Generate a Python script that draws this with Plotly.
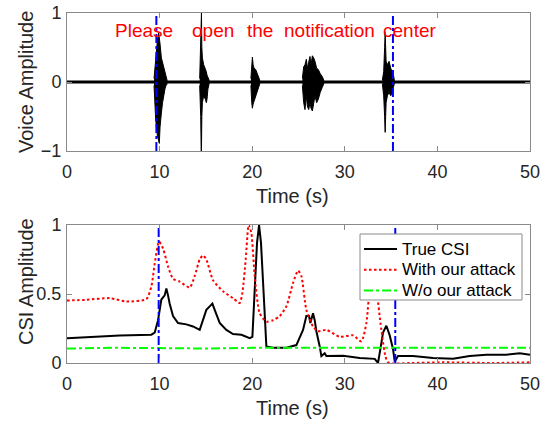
import plotly.graph_objects as go

# ---------------- data: voice waveform (burst envelopes) ----------------
b1_t  = [9.40, 9.50, 9.58, 9.76, 9.90, 9.97, 10.05, 10.19, 10.32, 10.44, 10.58, 10.66, 10.80]
b1_up = [0.05, 0.20, 0.40, 0.60, 0.71, 0.66, 0.55, 0.35, 0.28, 0.20, 0.12, 0.10, 0.03]
b1_lo = [-0.05, -0.20, -0.55, -0.78, -0.85, -0.89, -0.65, -0.45, -0.30, -0.20, -0.10, -0.06, -0.03]

b2_t  = [14.33, 14.44, 14.49, 14.52, 14.56, 14.62, 14.76, 14.94, 15.05, 15.12, 15.22, 15.34]
b2_up = [0.05, 0.50, 1.00, 1.00, 0.50, 0.35, 0.25, 0.20, 0.15, 0.10, 0.06, 0.03]
b2_lo = [-0.05, -0.50, -1.00, -1.00, -0.50, -0.30, -0.20, -0.25, -0.30, -0.25, -0.10, -0.03]

b3_t  = [19.86, 19.95, 20.02, 20.10, 20.20, 20.38, 20.50, 20.63, 20.81]
b3_up = [0.05, 0.25, 0.36, 0.25, 0.20, 0.18, 0.14, 0.10, 0.03]
b3_lo = [-0.05, -0.30, -0.38, -0.32, -0.28, -0.20, -0.15, -0.10, -0.03]

b4_t  = [25.42, 25.56, 25.70, 25.85, 25.96, 26.10, 26.24, 26.35, 26.50, 26.64, 26.78, 26.96, 27.14, 27.35, 27.56, 27.72]
b4_up = [0.05, 0.22, 0.25, 0.33, 0.20, 0.30, 0.37, 0.25, 0.38, 0.35, 0.30, 0.20, 0.18, 0.12, 0.08, 0.03]
b4_lo = [-0.05, -0.30, -0.40, -0.20, -0.35, -0.40, -0.30, -0.38, -0.42, -0.35, -0.20, -0.30, -0.25, -0.15, -0.08, -0.03]

b5_t  = [34.06, 34.20, 34.30, 34.36, 34.40, 34.46, 34.60, 34.78, 34.96, 35.14, 35.25, 35.34]
b5_up = [0.03, 0.15, 0.50, 0.72, 0.55, 0.30, 0.25, 0.30, 0.20, 0.15, 0.10, 0.04]
b5_lo = [-0.03, -0.20, -0.50, -0.73, -0.55, -0.30, -0.20, -0.15, -0.20, -0.15, -0.08, -0.03]

bursts = [(b1_t, b1_up, b1_lo), (b2_t, b2_up, b2_lo), (b3_t, b3_up, b3_lo),
          (b4_t, b4_up, b4_lo), (b5_t, b5_up, b5_lo)]

words   = ["Please", "open", "the", "notification", "center"]
words_t = [8.32, 15.8, 20.84, 28.4, 37.0]
words_y = 0.74

marker_top = [9.65, 35.2]
marker_bot = [9.9, 35.45]

# ---------------- data: CSI curves ----------------
true_t = [0, 2.81, 5.69, 9.11, 9.47, 9.83, 10.19, 10.55, 10.73, 10.91, 11.09, 11.45, 11.99, 12.89,
          13.61, 14.33, 14.69, 15.05, 15.41, 15.70, 15.95, 16.49, 17.21, 17.93, 18.83, 19.73, 20.02,
          20.27, 20.52, 20.74, 20.95, 21.24, 21.53, 22.25, 23.69, 24.77, 25.13, 25.49, 25.85, 26.14,
          26.28, 26.57, 26.75, 26.93, 27.29, 27.47, 27.83, 28.01, 29.81, 31.61, 33.23, 33.59, 33.84,
          34.13, 34.49, 34.85, 35.21, 35.39, 35.75, 37.37, 39.53, 41.69, 43.49, 45.29, 47.45, 48.89, 50]
true_v = [0.18, 0.19, 0.20, 0.205, 0.22, 0.31, 0.46, 0.49, 0.54, 0.49, 0.43, 0.34, 0.29, 0.28,
          0.265, 0.24, 0.31, 0.385, 0.41, 0.43, 0.385, 0.29, 0.24, 0.21, 0.205, 0.18, 0.19,
          0.50, 0.87, 1.00, 0.87, 0.50, 0.12, 0.11, 0.11, 0.13, 0.19, 0.24, 0.34, 0.34,
          0.29, 0.36, 0.31, 0.23, 0.12, 0.05, 0.07, 0.05, 0.053, 0.036, 0.03, 0.0, 0.10,
          0.22, 0.27, 0.20, 0.10, 0.01, 0.05, 0.05, 0.036, 0.03, 0.05, 0.06, 0.06, 0.07, 0.06]

att_t = [0, 2.09, 4.61, 6.41, 8.57, 9.11, 9.47, 9.94, 10.37, 10.91, 11.45, 12.17, 13.25, 13.79,
         14.33, 14.69, 15.05, 15.77, 16.85, 17.93, 18.65, 18.94, 19.30, 19.62, 19.91, 20.27, 20.81,
         21.53, 22.25, 22.97, 23.69, 24.41, 24.95, 25.31, 25.85, 26.57, 27.11, 28.01, 29.45, 30.89,
         31.79, 32.33, 32.69, 33.05, 33.41, 33.95, 34.67, 37.01, 40.61, 46.01, 50]
att_v = [0.453, 0.458, 0.47, 0.446, 0.463, 0.554, 0.72, 0.88, 0.83, 0.70, 0.61, 0.59, 0.547, 0.63,
         0.75, 0.78, 0.75, 0.60, 0.52, 0.47, 0.434, 0.51, 0.75, 1.00, 0.94, 0.63, 0.36,
         0.30, 0.31, 0.34, 0.41, 0.58, 0.67, 0.63, 0.385, 0.265, 0.23, 0.24, 0.19, 0.20,
         0.157, 0.29, 0.55, 0.70, 0.55, 0.24, 0.005, 0.0, 0.005, 0.0, 0.005]

wo_t = [0, 5, 10, 15, 20, 25, 30, 35, 40, 45, 50]
wo_v = [0.105, 0.11, 0.108, 0.105, 0.11, 0.11, 0.108, 0.11, 0.11, 0.108, 0.11]

x_ticks = [0, 10, 20, 30, 40, 50]
legend_names = ["True CSI", "With our attack", "W/o our attack"]

# ---------------- figure ----------------
W, H = 546, 421
ML, MR, MT, MB = 67, 16, 13, 58
PW, PH = W - ML - MR, H - MT - MB

def px_x(p):  # pixel -> paper x
    return (p - ML) / PW

def px_y(p):  # pixel -> paper y
    return (H - MB - p) / PH

fig = go.Figure()
font_family = "Liberation Sans, Arial, sans-serif"
txt_color = "#262626"

# voice baseline
fig.add_trace(go.Scatter(x=[x_ticks[0], x_ticks[-1]], y=[0, 0], mode="lines",
                         line=dict(color="black", width=3), showlegend=False,
                         xaxis="x", yaxis="y"))
for bt, bu, bl in bursts:
    fig.add_trace(go.Scatter(x=bt + bt[::-1], y=bu + bl[::-1], mode="lines",
                             fill="toself", fillcolor="black",
                             line=dict(color="black", width=1), showlegend=False,
                             xaxis="x", yaxis="y"))
for m in marker_top:
    fig.add_trace(go.Scatter(x=[m, m], y=[-1, 1], mode="lines",
                             line=dict(color="#0000FF", width=2, dash="dashdot"),
                             showlegend=False, xaxis="x", yaxis="y"))

for w, t in zip(words, words_t):
    fig.add_annotation(x=t, y=words_y, xref="x", yref="y", text=w, showarrow=False,
                       font=dict(color="#FF0000", size=19, family=font_family))

# CSI
styles = [dict(color="black", width=2),
          dict(color="#FF0000", width=2, dash="2.5px,2.5px"),
          dict(color="#00FF00", width=2, dash="dashdot")]
fig.add_trace(go.Scatter(x=true_t, y=true_v, mode="lines", name=legend_names[0],
                         line=styles[0], xaxis="x2", yaxis="y2", showlegend=False))
fig.add_trace(go.Scatter(x=att_t, y=att_v, mode="lines", name=legend_names[1],
                         line=dict(shape="spline", smoothing=0.6, **styles[1]),
                         xaxis="x2", yaxis="y2", showlegend=False))
fig.add_trace(go.Scatter(x=wo_t, y=wo_v, mode="lines", name=legend_names[2],
                         line=styles[2], xaxis="x2", yaxis="y2", showlegend=False))
for m in marker_bot:
    fig.add_trace(go.Scatter(x=[m, m], y=[0, 1], mode="lines",
                             line=dict(color="#0000FF", width=2, dash="dashdot"),
                             showlegend=False, xaxis="x2", yaxis="y2"))

# manual legend box (MATLAB style)
fig.add_shape(type="rect", xref="paper", yref="paper",
              x0=px_x(360), x1=px_x(522), y0=px_y(300), y1=px_y(234),
              fillcolor="white", line=dict(color="#8a8a8a", width=1), layer="above")
for i, (name, st) in enumerate(zip(legend_names, styles)):
    yy = px_y(249 + 20.8 * i)
    fig.add_shape(type="line", xref="paper", yref="paper",
                  x0=px_x(364), x1=px_x(397), y0=yy, y1=yy,
                  line=dict(color=st["color"], width=2, dash=st.get("dash", "solid")),
                  layer="above")
    fig.add_annotation(x=px_x(400), y=yy, xref="paper", yref="paper", text=name,
                       showarrow=False, xanchor="left", yanchor="middle",
                       font=dict(size=17, color="black", family=font_family))

# axis titles as annotations
title_font = dict(size=20, color=txt_color, family=font_family)
fig.add_annotation(x=px_x(292), y=px_y(196), xref="paper", yref="paper", text="Time (s)",
                   showarrow=False, font=title_font, xanchor="center", yanchor="middle")
fig.add_annotation(x=px_x(292), y=px_y(408), xref="paper", yref="paper", text="Time (s)",
                   showarrow=False, font=title_font, xanchor="center", yanchor="middle")
fig.add_annotation(x=px_x(26), y=px_y(82), xref="paper", yref="paper", text="Voice Amplitude",
                   showarrow=False, font=title_font, textangle=-90,
                   xanchor="center", yanchor="middle")
fig.add_annotation(x=px_x(26), y=px_y(282), xref="paper", yref="paper", text="CSI Amplitude",
                   showarrow=False, font=title_font, textangle=-90,
                   xanchor="center", yanchor="middle")

axis_common = dict(showline=True, linecolor="#8a8a8a", linewidth=1, mirror="ticks",
                   ticks="inside", ticklen=5, tickcolor="#8a8a8a", showgrid=False,
                   zeroline=False, automargin=False,
                   tickfont=dict(size=18, color=txt_color, family=font_family))

top_dom = [px_y(151), 1]
bot_dom = [0, px_y(225)]

fig.update_layout(
    width=W, height=H,
    margin=dict(l=ML, r=MR, t=MT, b=MB),
    paper_bgcolor="white", plot_bgcolor="white",
    font=dict(family=font_family, color=txt_color),
    xaxis=dict(domain=[0, 1], range=[0, 50], tickvals=x_ticks, anchor="y",
               ticklabelstandoff=4, **axis_common),
    yaxis=dict(domain=top_dom, range=[-1, 1], tickvals=[-1, 0, 1], anchor="x",
               ticklabelstandoff=1, **axis_common),
    xaxis2=dict(domain=[0, 1], range=[0, 50], tickvals=x_ticks, anchor="y2",
                ticklabelstandoff=4, **axis_common),
    yaxis2=dict(domain=bot_dom, range=[0, 1], tickvals=[0, 0.5, 1], anchor="x2",
                ticklabelstandoff=1, **axis_common),
    showlegend=False,
)

fig.write_html("out.html")
